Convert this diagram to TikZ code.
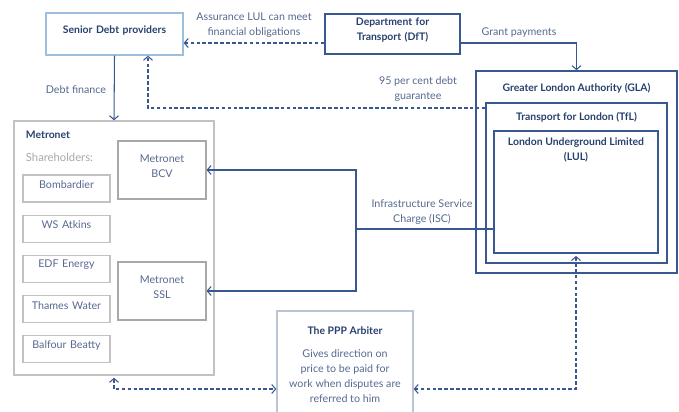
\documentclass[tikz,border=0pt]{standalone}
\usepackage{fontspec}
\setmainfont{Lato}
\usetikzlibrary{positioning,arrows.meta,fit}
\definecolor{pppnavy}{HTML}{28406E}
\definecolor{pppline}{HTML}{3A5890}
\definecolor{ppplabel}{HTML}{56698F}
\definecolor{ppplight}{HTML}{9EBEDD}
\definecolor{pppgrey}{HTML}{C2C2C2}
\definecolor{pppdark}{HTML}{A8A8A8}
\definecolor{ppparb}{HTML}{BAC4D4}
\tikzset{
  frame/.style  ={draw=pppline, line width=1.1pt, inner sep=0pt},
  lightbox/.style={draw=ppplight, line width=0.9pt, inner sep=0pt},
  greybox/.style={draw=pppgrey, line width=0.9pt, inner sep=0pt},
  unitbox/.style={draw=pppdark, line width=0.8pt, inner sep=0pt},
  arbbox/.style ={draw=ppparb, line width=0.9pt, inner sep=0pt},
  title/.style  ={font=\fontsize{7.4}{10.5}\selectfont\bfseries, text=pppnavy, align=center},
  note/.style   ={font=\fontsize{7.6}{10.6}\selectfont, text=ppplabel, align=center},
  flow/.style   ={-{Straight Barb[length=2.8pt,width=6.4pt]}, draw=pppline, line width=0.75pt},
  assure/.style ={flow, dash pattern=on 2.6pt off 1.6pt},
  both/.style   ={assure, {Straight Barb[length=2.8pt,width=6.4pt]}-{Straight Barb[length=2.8pt,width=6.4pt]}},
}

\begin{document}
\begin{tikzpicture}[x=0.025cm, y=-0.025cm]
  \useasboundingbox (0,0) rectangle (679,412);
  % top row
  \node[lightbox, fit={(46,13) (183,55)}, title] (senior) {Senior Debt providers};
  \node[frame, fit={(325,14) (460,54)}, title] (dft) {Department for\\Transport (DfT)};
  \coordinate (toprow) at (0,43);
  \node[note] (assurelbl) at (254,25) {Assurance LUL can meet\\financial obligations};
  \node[note] (grantlbl) at (519,33) {Grant payments};

  % GLA / TfL / LUL
  \node[frame, fit={(476,71) (677,273)}] (gla) {};
  \node[frame, fit={(486,103) (667,263)}] (tfl) {};
  \node[frame, fit={(494,131) (658,253)}] (lul) {};
  \node[title] (glalbl) at (576.5,88) {Greater London Authority (GLA)};
  \node[title] (tfllbl) at (576.5,117) {Transport for London (TfL)};
  \node[title] (lullbl) at (576,150) {London Underground Limited\\(LUL)};

  \draw[assure] (dft.west |- toprow) -- (senior.east |- toprow);
  \draw[flow] (dft.east |- toprow) -| (gla.north);

  \node[note] (gteelbl) at (418,89) {95 per cent debt\\guarantee};
  \coordinate (gtee) at (148,108);
  \draw[assure] (tfl.west |- gtee) -- (gtee) -- (senior.south -| gtee);

  % Metronet
  \node[greybox, fit={(14,121) (214,375)}] (metronet) {};
  \node[title, anchor=west] (metlbl) at (21,135) {Metronet};
  \node[anchor=west, text=pppdark, font=\fontsize{8}{10}\selectfont] (sharelbl) at (21,157) {Shareholders:};
  \foreach \who [count=\i from 0] in {Bombardier, WS Atkins, EDF Energy, Thames Water, Balfour Beatty}
    \node[greybox, fit={(23,175+40.2*\i) (110,202+40.2*\i)}, note] (share\i) {\who};
  \node[unitbox, fit={(118,141) (206,199)}, note] (bcv) {Metronet\\BCV};
  \node[unitbox, fit={(118,262) (206,320)}, note] (ssl) {Metronet\\SSL};

  \draw[flow] (senior.south) -- (metronet.north);
  \node[note] (debtlbl) at (76,90) {Debt finance};

  % Infrastructure Service Charge
  \coordinate (isc) at (356,229);
  \node[note] (isclbl) at (422,212) {Infrastructure Service\\Charge (ISC)};
  \draw[pppline, line width=0.75pt] (lul.west |- isc) -- (isc);
  \draw[flow] (isc) |- (bcv.east);
  \draw[flow] (isc) |- (ssl.east);

  % arbiter
  \node[arbbox, fit={(277,311) (413,418)}] (arbiter) {};
  \node[title] (arblbl) at (345,331) {The PPP Arbiter};
  \node[note] (arbtext) at (345,376) {Gives direction on\\price to be paid for\\work when disputes are\\referred to him};
  \coordinate (dispute) at (0,389);
  \draw[both, shorten <=1.5pt] (metronet.south) |- (arbiter.west |- dispute);
  \draw[both, shorten <=1.5pt] (lul.south) |- (arbiter.east |- dispute);
\end{tikzpicture}
\end{document}
